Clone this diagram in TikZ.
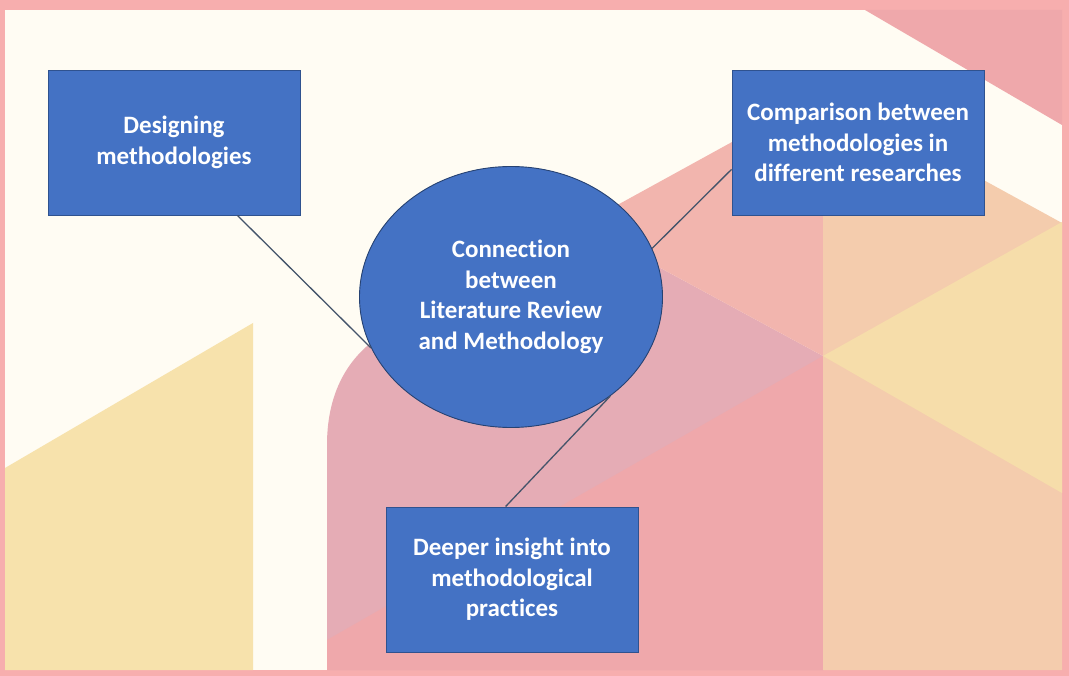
\documentclass[tikz,border=0pt]{standalone}
\usepackage{fontspec}
\setmainfont{Carlito}[Ligatures=NoCommon]
\usetikzlibrary{shapes.geometric}

\definecolor{framepink}{HTML}{F7AEAE}
\definecolor{cream}{HTML}{FFFCF3}
\definecolor{sandyellow}{HTML}{F7E2AC}
\definecolor{mauve}{HTML}{E5ACB5}
\definecolor{salmon}{HTML}{F2B5AE}
\definecolor{peach}{HTML}{F4CCAD}
\definecolor{paleyellow}{HTML}{F6DDAA}
\definecolor{rosepink}{HTML}{EFA8AB}
\definecolor{boxblue}{HTML}{4472C4}
\definecolor{boxedge}{HTML}{2F528F}
\definecolor{linkgray}{HTML}{44546A}

\tikzset{
  topicbox/.style={rectangle,fill=boxblue,draw=boxedge,line width=0.9pt,
    minimum width=252pt,minimum height=145pt,inner sep=0pt,
    text=white,align=center,font=\fontsize{25}{30.5}\selectfont\bfseries},
  hubnode/.style={ellipse,fill=boxblue,draw=boxedge!80!black,line width=0.9pt,
    minimum width=303pt,minimum height=261pt,inner sep=0pt,
    text=white,align=center,font=\fontsize{25}{30.5}\selectfont\bfseries},
  link/.style={draw=linkgray,line width=1.3pt}
}

\begin{document}
\begin{tikzpicture}[x=1pt,y=-1pt]
		\useasboundingbox (0,0) rectangle (1069,676);
		\coordinate (c1) at (327,670);
		\coordinate (c2) at (327,445);
		\coordinate (c3) at (390,330);
		\coordinate (c4) at (581,225);
		\coordinate (c5) at (823,92);
		\coordinate (c6) at (823,356);
		\coordinate (c7) at (1062,223);
		\coordinate (c8) at (1062,493);
		\coordinate (c9) at (823,670);
		\coordinate (c10) at (1062,670);
		
		% the frame and the cream page
		\fill[framepink] (0,0) rectangle (1069,676);
		\fill[cream] (5,10) rectangle (1062,670);
		% the yellow block on the left
		\fill[sandyellow] (5,468) -- (253,323) -- (253,670) -- (5,670) -- cycle;
		% the pink corner at the top right
		\fill[rosepink] (865,10) -- (1062,10) -- (1062,125) -- cycle;
		% the arch
		\fill[mauve]
		(c1) -- (c2) .. controls (327,390) and (350,352) .. (c3) -- (c4) -- (c6) -- (c9) -- cycle;
		\fill[rosepink] (327,640) -- (c6) -- (c9) -- (c1) -- cycle;
		% the cube on the right
		\fill[salmon] (c4) -- (c5) -- (c6) -- cycle;
		\fill[peach] (c5) -- (c7) -- (c10) -- (c9) -- (c6) -- cycle;
		\fill[paleyellow] (c6) -- (1062,222) -- (c8) -- cycle;
		
		% the nodes
		\node[hubnode] (conn) at (511,297) {Connection\\between\\Literature Review\\and Methodology};
		\node[topicbox] (design) at (174,142.5) {Designing\\methodologies};
		\node[topicbox] (compare) at (858,142.5) {Comparison between\\methodologies in\\different researches};
		\node[topicbox] (insight) at (512,579.5) {Deeper insight into\\methodological\\practices};
		
		% the links
		\foreach \a/\b in {design.-49/conn.200,compare.192/conn.19,insight.95/conn.-45}
		{
			\draw[link] (\a) -- (\b);
		}
	\end{tikzpicture}
\end{document}
